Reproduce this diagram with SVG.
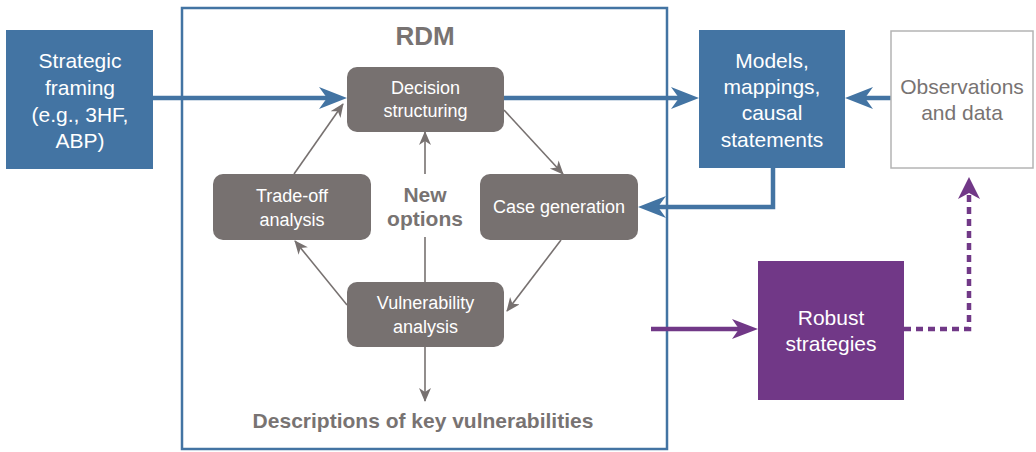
<svg xmlns="http://www.w3.org/2000/svg" width="1036" height="452" viewBox="0 0 1036 452">
<style>
text{font-family:"Liberation Sans",Arial,sans-serif;text-anchor:middle}
.w{fill:#ffffff}
.lbl{font-size:18px}
.big{font-size:21px}
.gt{fill:#787372}
.bold{font-weight:bold}
.blue{fill:#4374a3}
.gbox{fill:#777170}
.thick{fill:none;stroke:#4374a3;stroke-width:4.5}
.thin{fill:none;stroke:#777170;stroke-width:1.6}
.pur{fill:none;stroke:#713887;stroke-width:4.5}
</style>
<defs>
<marker id="ab" markerUnits="userSpaceOnUse" markerWidth="30" markerHeight="24" refX="18" refY="11" orient="auto" viewBox="0 0 30 24">
<path d="M0,0 L28,11 L0,22 L8,11 Z" fill="#4374a3"/>
</marker>
<marker id="ap" markerUnits="userSpaceOnUse" markerWidth="30" markerHeight="24" refX="16" refY="10" orient="auto" viewBox="0 0 30 24">
<path d="M0,0 L26,10 L0,20 L7,10 Z" fill="#713887"/>
</marker>
<marker id="apd" markerUnits="userSpaceOnUse" markerWidth="26" markerHeight="24" refX="12" refY="11" orient="auto" viewBox="0 0 26 24">
<path d="M0,0 L22,11 L0,22 L6,11 Z" fill="#713887"/>
</marker>
<marker id="ag" markerUnits="userSpaceOnUse" markerWidth="16" markerHeight="14" refX="13" refY="6" orient="auto" viewBox="0 0 16 14">
<path d="M0,0 L14,6 L0,12 L4,6 Z" fill="#777170"/>
</marker>
</defs>

<rect id="rdm-frame" x="182" y="8" width="485" height="441" fill="none" stroke="#4374a3" stroke-width="2.5"/>
<text class="gt bold" x="425" y="45" style="font-size:26px">RDM</text>

<g id="connectors">
<path class="thick" d="M153,98 H337" marker-end="url(#ab)"/>
<path class="thick" d="M504,98 H689" marker-end="url(#ab)"/>
<path class="thick" d="M891,98 H855" marker-end="url(#ab)"/>
<path class="thick" d="M773,168 V207 H648" marker-end="url(#ab)"/>
<path class="pur" d="M651,329 H748" marker-end="url(#ap)"/>
<path class="pur" d="M904,329 H969 V187" stroke-dasharray="7 5" marker-end="url(#apd)"/>
<path class="thin" d="M504,110 L563,174" marker-end="url(#ag)"/>
<path class="thin" d="M561,240 L507,311" marker-end="url(#ag)"/>
<path class="thin" d="M347,305 L295,241" marker-end="url(#ag)"/>
<path class="thin" d="M294,174 L343,104" marker-end="url(#ag)"/>
<path class="thin" d="M425,174 V132" marker-end="url(#ag)"/>
<path class="thin" d="M425,282 V237"/>
<path class="thin" d="M425,347 V401" marker-end="url(#ag)"/>
</g>

<g id="strategic-framing">
<rect class="blue" x="6" y="30" width="147" height="139"/>
<text class="w big" x="80" y="68">Strategic</text>
<text class="w big" x="80" y="95">framing</text>
<text class="w big" x="80" y="122">(e.g., 3HF,</text>
<text class="w big" x="80" y="148">ABP)</text>
</g>

<g id="decision-structuring">
<rect class="gbox" x="347" y="67" width="157" height="65" rx="10"/>
<text class="w lbl" x="425.5" y="94">Decision</text>
<text class="w lbl" x="425.5" y="117">structuring</text>
</g>

<g id="trade-off">
<rect class="gbox" x="213" y="174" width="158" height="66" rx="10"/>
<text class="w lbl" x="292" y="202">Trade-off</text>
<text class="w lbl" x="292" y="226">analysis</text>
</g>

<g id="case-generation">
<rect class="gbox" x="480" y="174" width="158" height="66" rx="10"/>
<text class="w lbl" x="559" y="213">Case generation</text>
</g>

<g id="vulnerability">
<rect class="gbox" x="347" y="282" width="157" height="65" rx="10"/>
<text class="w lbl" x="425.5" y="309">Vulnerability</text>
<text class="w lbl" x="425.5" y="333">analysis</text>
</g>

<g id="new-options">
<text class="gt bold big" x="425" y="202">New</text>
<text class="gt bold big" x="425" y="226">options</text>
</g>

<g id="descriptions">
<text class="gt bold big" x="423" y="428">Descriptions of key vulnerabilities</text>
</g>

<g id="models">
<rect class="blue" x="699" y="30" width="146" height="138"/>
<text class="w big" x="772" y="68">Models,</text>
<text class="w big" x="772" y="94">mappings,</text>
<text class="w big" x="772" y="120">causal</text>
<text class="w big" x="772" y="147">statements</text>
</g>

<g id="observations">
<rect x="891" y="31" width="142" height="137" fill="#ffffff" stroke="#b4b4b4" stroke-width="1.5"/>
<text class="gt big" x="962" y="94">Observations</text>
<text class="gt big" x="962" y="120">and data</text>
</g>

<g id="robust">
<rect x="758" y="261" width="146" height="139" fill="#713887"/>
<text class="w big" x="831" y="325">Robust</text>
<text class="w big" x="831" y="351">strategies</text>
</g>
</svg>
